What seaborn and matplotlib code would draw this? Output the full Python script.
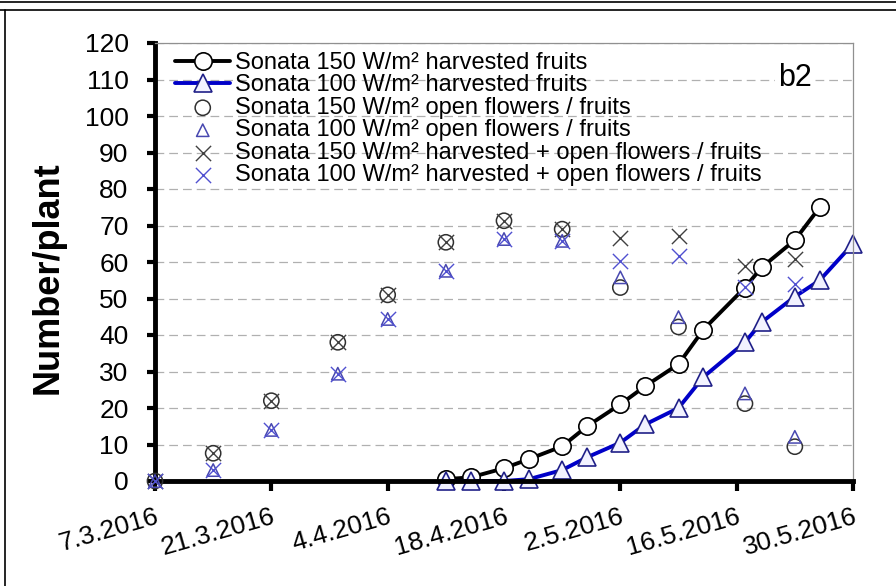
import numpy as np
import pandas as pd
import matplotlib
matplotlib.use('Agg')
import matplotlib.pyplot as plt
from matplotlib.lines import Line2D
import seaborn as sns

# harvested fruits (cumulative)
harvest_dates = ['2016-04-11', '2016-04-14', '2016-04-18', '2016-04-21', '2016-04-25', '2016-04-28',
                 '2016-05-02', '2016-05-05', '2016-05-09', '2016-05-12', '2016-05-17', '2016-05-19',
                 '2016-05-23', '2016-05-26', '2016-05-30']
harv_150 = [0.5, 1, 3.5, 6, 9.5, 15, 21, 26, 32, 41.5, 53, 58.5, 66, 75, np.nan]
harv_100 = [0, 0, 0, 0.5, 3, 6.5, 10.5, 15.5, 20, 28.5, 38, 43.5, 50.5, 55, 65]

# open flowers / fruits and harvested + open
open_dates = ['2016-03-07', '2016-03-14', '2016-03-21', '2016-03-29', '2016-04-04', '2016-04-11',
              '2016-04-18', '2016-04-25', '2016-05-02', '2016-05-09', '2016-05-17', '2016-05-23']
open_150 = [0, 7.6, 22, 38, 51, 65.4, 71.3, 69, 53, 42.2, 21.2, 9.4]
open_100 = [0, 3, 14, 29.4, 44.4, 57.6, 66.3, 65.8, 55.8, 44.9, 24, 12.1]
total_150 = [0, 7.6, 22, 38, 51, 65.4, 71.3, 69, 66.7, 67.2, 59, 60.8]
total_100 = [0, 3, 14, 29.4, 44.4, 57.6, 66.3, 65.8, 60.4, 61.7, 53.1, 54]

labels = ['Sonata 150 W/m² harvested fruits',
          'Sonata 100 W/m² harvested fruits',
          'Sonata 150 W/m² open flowers / fruits',
          'Sonata 100 W/m² open flowers / fruits',
          'Sonata 150 W/m² harvested + open flowers / fruits',
          'Sonata 100 W/m² harvested + open flowers / fruits']

hd = pd.to_datetime(harvest_dates)
od = pd.to_datetime(open_dates)

sns.set_theme(style='white')
plt.rcParams['font.family'] = ['Liberation Sans', 'DejaVu Sans']
plt.rcParams['text.color'] = 'black'
plt.rcParams['axes.labelcolor'] = 'black'
plt.rcParams['xtick.color'] = 'black'
plt.rcParams['ytick.color'] = 'black'

fig = plt.figure(figsize=(8.96, 5.86), dpi=100)
ax = fig.add_axes([155/896, 105/586, 698/896, 438/586])

sns.lineplot(x=hd, y=harv_150, ax=ax, color='black', lw=2.8, marker='o', markersize=12.5,
             markerfacecolor='white', markeredgecolor='black', markeredgewidth=1.2,
             label=labels[0], clip_on=False, zorder=2)
sns.lineplot(x=hd, y=harv_100, ax=ax, color='#0000c8', lw=2.8, marker='^', markersize=12.5,
             markerfacecolor='#f2f2ff', markeredgecolor='#202088', markeredgewidth=1.2,
             label=labels[1], clip_on=False, zorder=2)

sns.scatterplot(x=od, y=open_150, ax=ax, marker='o', s=120, facecolor='none',
                edgecolor='#303030', linewidth=1.1, label=labels[2], clip_on=False, zorder=3)
sns.scatterplot(x=od, y=open_100, ax=ax, marker='^', s=80, facecolor='none',
                edgecolor='#4848b0', linewidth=1.1, label=labels[3], clip_on=False, zorder=3)
sns.scatterplot(x=od, y=total_150, ax=ax, marker='x', s=120, color='#404040',
                linewidth=1.0, label=labels[4], clip_on=False, zorder=3)
sns.scatterplot(x=od, y=total_100, ax=ax, marker='x', s=120, color='#5050d0',
                linewidth=1.0, label=labels[5], clip_on=False, zorder=3)

ax.set_xlim(pd.Timestamp('2016-03-07'), pd.Timestamp('2016-05-30'))
ax.set_ylim(0, 120)
ax.set_yticks(np.arange(0, 121, 10))
ticks = pd.date_range('2016-03-07', '2016-05-30', freq='14D')
ax.set_xticks(ticks)
ax.set_xticklabels([f'{d.day}.{d.month}.{d.year}' for d in ticks], rotation=16,
                   ha='right', va='top', rotation_mode='anchor', fontsize=19)
ax.tick_params(axis='y', labelsize=19, direction='out', length=6, width=3, left=True, pad=13)
ax.tick_params(axis='x', direction='out', length=7, width=3, bottom=True, pad=10)
ax.set_xlabel('')
ax.set_ylabel('Number/plant', fontsize=26, fontweight='bold')
ax.yaxis.set_label_coords((48 - 155) / 698, (481 - 278) / 438)
ax.yaxis.label.set_va('center')

ax.yaxis.grid(True, linestyle=(0, (7, 4)), color='#b0b0b0', linewidth=0.9)
ax.set_axisbelow(True)
for side in ['left', 'bottom']:
    ax.spines[side].set_linewidth(3.5)
    ax.spines[side].set_color('black')
for side in ['top', 'right']:
    ax.spines[side].set_linewidth(0.9)
    ax.spines[side].set_color('#909090')

handles, labs = ax.get_legend_handles_labels()
ax.legend(handles, labs, loc='upper left', bbox_to_anchor=(20/698, 1 - 9/438),
          frameon=False, fontsize=17, labelspacing=0.02, handlelength=2.35,
          handletextpad=0.2, borderpad=0, borderaxespad=0, scatterpoints=1)

ax.text((795 - 155) / 698, (481 - 78) / 438, 'b2', transform=ax.transAxes, fontsize=22,
        ha='center', va='center', bbox=dict(facecolor='white', edgecolor='none', pad=2))

# frame lines of the surrounding page
fig.add_artist(Line2D([0, 1], [1 - 1.5/586, 1 - 1.5/586], color='black', lw=1.2))
fig.add_artist(Line2D([0, 1], [1 - 9.5/586, 1 - 9.5/586], color='black', lw=1.2))
fig.add_artist(Line2D([4.5/896, 4.5/896], [0, 1 - 9.5/586], color='black', lw=1.2))

fig.savefig('out.png', dpi=100, facecolor='white')
